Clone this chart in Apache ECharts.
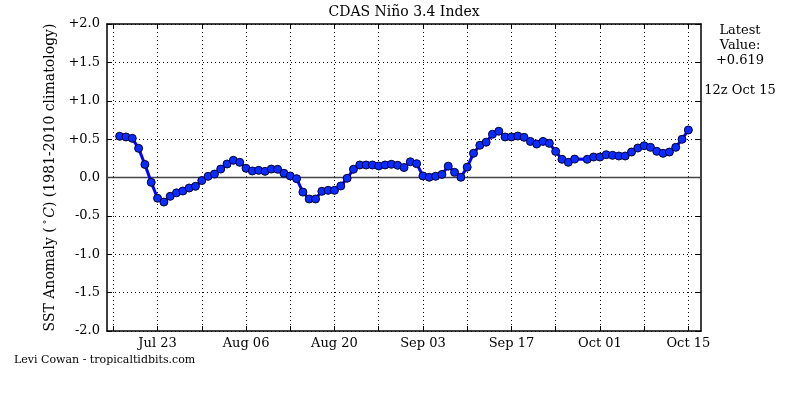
<!DOCTYPE html>
<html>
<head>
<meta charset="utf-8">
<title>CDAS Nino 3.4 Index</title>
<script src="https://cdn.jsdelivr.net/npm/echarts@6/dist/echarts.min.js"></script>
<style>
  html, body { margin: 0; padding: 0; background: #fff; }
  #main { width: 806px; height: 398px; }
</style>
</head>
<body>
<div id="main"></div>
<script>
// daily Nino 3.4 anomaly, first value is 2014-07-17, null = no analysis that day
var firstDay = '2014-07-17';
var sstValues = [
  0.537, 0.528, 0.510, 0.380, 0.170, -0.063, -0.270, -0.320, -0.245, -0.200,
  -0.176, -0.137, -0.115, -0.040, 0.015, 0.045, 0.110, 0.176, 0.224, 0.198,
  0.120, 0.085, 0.093, 0.080, 0.110, 0.107, 0.055, 0.020, -0.015, -0.190,
  -0.280, -0.280, -0.180, -0.167, -0.167, -0.110, -0.010, 0.107, 0.163, 0.163,
  0.163, 0.150, 0.163, 0.172, 0.159, 0.130, 0.205, 0.180, 0.020, 0.003,
  0.016, 0.040, 0.148, 0.067, 0.003, 0.135, 0.315, 0.420, 0.460, 0.563,
  0.603, 0.528, 0.528, 0.540, 0.524, 0.470, 0.436, 0.470, 0.445, 0.340,
  0.237, 0.198, 0.240, null, 0.237, 0.267, 0.267, 0.297, 0.289, 0.280,
  0.280, 0.332, 0.384, 0.414, 0.393, 0.341, 0.315, 0.332, 0.393, 0.498,
  0.619
];
// x range of the plot (two days either side of the data)
var axisStart = '2014-07-15';
var axisEnd = '2014-10-17';
var firstGridDay = '2014-07-16';   // weekly grid lines from here
var firstLabelDay = '2014-07-23';  // labels every two weeks from here
var latestText = ['Latest', 'Value:', '+0.619'];
var latestTime = '12z Oct 15';

var MONTHS = ['Jan','Feb','Mar','Apr','May','Jun','Jul','Aug','Sep','Oct','Nov','Dec'];
var DAY = 86400000;
function toMs(s){ return Date.parse(s + 'T00:00:00Z'); }
function fmt(ms){
  var d = new Date(ms);
  var dd = d.getUTCDate();
  return MONTHS[d.getUTCMonth()] + ' ' + (dd < 10 ? '0' + dd : dd);
}

// one category per day across the axis
var cats = [];
var seriesData = [];
var zeroData = [];
var nDays = Math.round((toMs(axisEnd) - toMs(axisStart)) / DAY) + 1;
var dataOffset = Math.round((toMs(firstDay) - toMs(axisStart)) / DAY);
for (var i = 0; i < nDays; i++) {
  cats.push(fmt(toMs(axisStart) + i * DAY));
  var v = sstValues[i - dataOffset];
  seriesData.push(v === undefined || v === null ? '-' : v);
  zeroData.push(0);
}
var gridOffset = Math.round((toMs(firstGridDay) - toMs(axisStart)) / DAY);
var labelOffset = Math.round((toMs(firstLabelDay) - toMs(axisStart)) / DAY);
function weekly(idx){ return idx >= gridOffset && (idx - gridOffset) % 7 === 0; }
function biweekly(idx){ return idx >= labelOffset && (idx - labelOffset) % 14 === 0; }

var FONT = 'DejaVu Serif';
var chart = echarts.init(document.getElementById('main'), null, {renderer: 'canvas'});

var border = { show: true, onZero: false, lineStyle: { color: '#000', width: 1.5 } };
var tick = { show: true, inside: true, length: 5, lineStyle: { color: '#000', width: 1 } };

var option = {
  backgroundColor: '#ffffff',
  animation: false,
  textStyle: { fontFamily: FONT },
  grid: { left: 107, right: 105, top: 24, bottom: 67, containLabel: false, outerBoundsMode: 'none' },
  xAxis: [{
    type: 'category',
    data: cats,
    boundaryGap: false,
    position: 'bottom',
    axisLine: border,
    axisTick: Object.assign({ interval: weekly }, tick),
    axisLabel: { interval: biweekly, color: '#000', fontFamily: FONT, fontSize: 13, margin: 6 },
    splitLine: { show: true, interval: weekly, lineStyle: { color: '#000', width: 1, type: [1, 3] } }
  }, {
    type: 'category',
    data: cats,
    boundaryGap: false,
    position: 'top',
    axisLine: border,
    axisTick: Object.assign({ interval: weekly }, tick),
    axisLabel: { show: false },
    splitLine: { show: false }
  }],
  yAxis: [{
    type: 'value',
    min: -2, max: 2, interval: 0.5,
    position: 'left',
    name: '{a|SST Anomaly (}{s|°}{i|C}{a|) (1981-2010 climatology)}',
    nameLocation: 'middle',
    nameRotate: 90,
    nameGap: 45,
    nameTextStyle: {
      rich: {
        a: { fontFamily: FONT, fontSize: 14, color: '#000' },
        s: { fontFamily: FONT, fontSize: 9, color: '#000', verticalAlign: 'top', padding: [0, 2, 0, 3] },
        i: { fontFamily: FONT, fontSize: 14, color: '#000', fontStyle: 'italic' }
      }
    },
    axisLine: border,
    axisTick: tick,
    axisLabel: {
      color: '#000', fontFamily: FONT, fontSize: 13, margin: 7,
      formatter: function(v){ return (v > 0 ? '+' : '') + v.toFixed(1); }
    },
    splitLine: { show: true, lineStyle: { color: '#000', width: 1, type: [1, 3] } }
  }, {
    type: 'value',
    min: -2, max: 2, interval: 0.5,
    position: 'right',
    axisLine: border,
    axisTick: tick,
    axisLabel: { show: false },
    splitLine: { show: false }
  }],
  series: [{
    // zero reference line
    name: 'zero',
    type: 'line',
    data: zeroData,
    showSymbol: false,
    silent: true,
    z: 1,
    lineStyle: { color: '#444444', width: 1.5 }
  }, {
    name: 'Nino 3.4',
    type: 'line',
    data: seriesData,
    connectNulls: true,
    symbol: 'circle',
    symbolSize: 8,
    showAllSymbol: true,
    z: 3,
    lineStyle: { color: '#0000ff', width: 3 },
    itemStyle: { color: '#0a2cff', borderColor: '#000033', borderWidth: 1 }
  }],
  graphic: [{
    type: 'text',
    style: { x: 404, y: 12, text: 'CDAS Niño 3.4 Index', font: '14px "' + FONT + '"', fill: '#000', textAlign: 'center', textVerticalAlign: 'middle' }
  }, {
    type: 'text',
    style: { x: 740, y: 23, text: latestText.join('\n'), font: '13px "' + FONT + '"', lineHeight: 15, fill: '#000', textAlign: 'center', textVerticalAlign: 'top' }
  }, {
    type: 'text',
    style: { x: 740, y: 91, text: latestTime, font: '13px "' + FONT + '"', fill: '#000', textAlign: 'center', textVerticalAlign: 'middle' }
  }, {
    type: 'text',
    style: { x: 14, y: 360, text: 'Levi Cowan - tropicaltidbits.com', font: '11px "' + FONT + '"', fill: '#000', textAlign: 'left', textVerticalAlign: 'middle' }
  }]
};
chart.setOption(option);
</script>
</body>
</html>
